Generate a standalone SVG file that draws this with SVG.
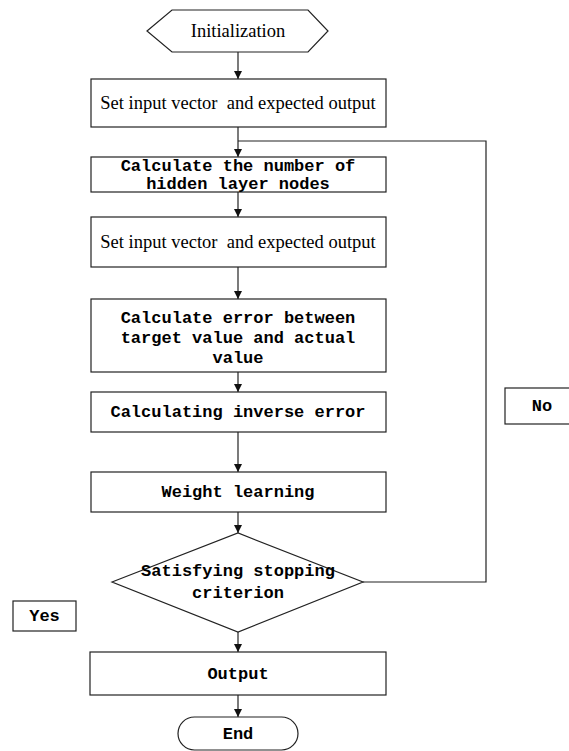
<svg xmlns="http://www.w3.org/2000/svg" width="569" height="751" viewBox="0 0 569 751">
<style>
.s{fill:#fff;stroke:#222;stroke-width:1.2}
.c{fill:none;stroke:#222;stroke-width:1.2}
.m{font-family:"Liberation Mono","DejaVu Sans Mono",monospace;font-weight:bold;font-size:17px;fill:#000;text-anchor:middle}
.t{font-family:"Liberation Serif","Times New Roman",serif;font-size:18.5px;fill:#000;text-anchor:middle}
</style>
<defs>
<marker id="ah" viewBox="0 0 8 10" refX="8" refY="5" markerWidth="8" markerHeight="10" markerUnits="userSpaceOnUse" orient="auto">
<path d="M0,1 L8,5 L0,9 z" fill="#111"/>
</marker>
</defs>
<rect width="569" height="751" fill="#fff"/>
<g id="connectors">
<line class="c" x1="238" y1="52" x2="238" y2="79" marker-end="url(#ah)"/>
<line class="c" x1="238" y1="127" x2="238" y2="157" marker-end="url(#ah)"/>
<path class="c" d="M363,582 H486 V141 H238"/>
<line class="c" x1="238" y1="192" x2="238" y2="217" marker-end="url(#ah)"/>
<line class="c" x1="238" y1="267" x2="238" y2="299" marker-end="url(#ah)"/>
<line class="c" x1="238" y1="372" x2="238" y2="392" marker-end="url(#ah)"/>
<line class="c" x1="238" y1="432" x2="238" y2="472" marker-end="url(#ah)"/>
<line class="c" x1="238" y1="512" x2="238" y2="533" marker-end="url(#ah)"/>
<line class="c" x1="238" y1="632" x2="238" y2="652" marker-end="url(#ah)"/>
<line class="c" x1="238" y1="695" x2="238" y2="717" marker-end="url(#ah)"/>
</g>
<g id="init">
<polygon class="s" points="147,31 172,10 308,10 328,31 308,52 172,52"/>
<text class="t" x="238" y="37" font-size="15">Initialization</text>
</g>
<g id="set1">
<rect class="s" x="91" y="79" width="295" height="48"/>
<text class="t" x="238" y="109">Set input vector&#160; and expected output</text>
</g>
<g id="hidden">
<rect class="s" x="91" y="157" width="295" height="35"/>
<text class="m" x="238" y="171" font-size="16">Calculate the number of</text>
<text class="m" x="238" y="189" font-size="16">hidden layer nodes</text>
</g>
<g id="set2">
<rect class="s" x="91" y="217" width="295" height="50"/>
<text class="t" x="238" y="248">Set input vector&#160; and expected output</text>
</g>
<g id="error">
<rect class="s" x="91" y="299" width="295" height="73"/>
<text class="m" x="238" y="323">Calculate error between</text>
<text class="m" x="238" y="343">target value and actual</text>
<text class="m" x="238" y="363">value</text>
</g>
<g id="inverse">
<rect class="s" x="91" y="392" width="295" height="40"/>
<text class="m" x="238" y="417">Calculating inverse error</text>
</g>
<g id="weight">
<rect class="s" x="91" y="472" width="295" height="40"/>
<text class="m" x="238" y="497">Weight learning</text>
</g>
<g id="decision">
<polygon class="s" points="112,582 238,533 363,582 238,632"/>
<text class="m" x="238" y="576">Satisfying stopping</text>
<text class="m" x="238" y="598">criterion</text>
</g>
<g id="output">
<rect class="s" x="90" y="652" width="296" height="43"/>
<text class="m" x="238" y="679">Output</text>
</g>
<g id="end">
<rect class="s" x="178" y="717" width="120" height="33" rx="16.5"/>
<text class="m" x="238" y="739">End</text>
</g>
<g id="yes">
<rect class="s" x="13" y="601" width="63" height="30"/>
<text class="m" x="44.5" y="621">Yes</text>
</g>
<g id="no">
<rect class="s" x="505" y="388" width="70" height="36"/>
<text class="m" x="542" y="411">No</text>
</g>
</svg>
